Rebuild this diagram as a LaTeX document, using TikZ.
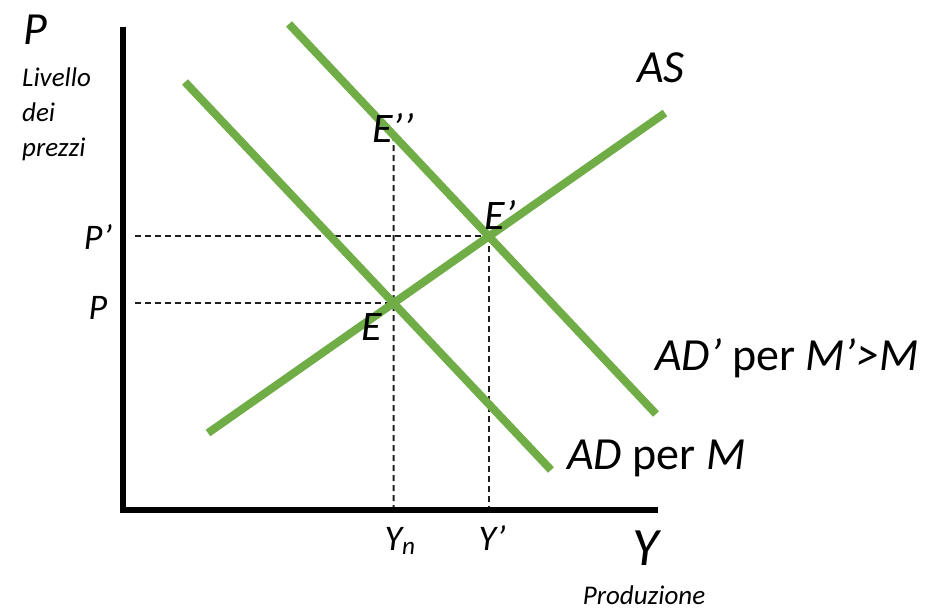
\documentclass[tikz,border=0pt]{standalone}
\usepackage{fontspec}
\setmainfont{Carlito}
\usetikzlibrary{calc}
\definecolor{curvegreen}{RGB}{112, 173, 71}
\definecolor{guidegray}{RGB}{30, 30, 30}

\tikzset{
    curve/.style={draw=curvegreen, line width=8pt},
    axisline/.style={draw=black, line width=6pt},
    guide/.style={draw=guidegray, line width=2pt, dash pattern=on 6pt off 4pt},
    axisname/.style={inner sep=0pt, font=\fontsize{46}{50}\selectfont\itshape},
    axisnote/.style={inner sep=0pt, align=left, font=\fontsize{27}{35}\selectfont\itshape},
    curvename/.style={inner sep=0pt, font=\fontsize{46}{50}\selectfont},
    pointname/.style={inner sep=0pt, font=\fontsize{42}{46}\selectfont\itshape},
    ticklabel/.style={inner sep=0pt, font=\fontsize{36}{40}\selectfont\itshape}
}

\begin{document}
\begin{tikzpicture}[x=1pt, y=-1pt]
    \useasboundingbox (0,0) rectangle (944,611);

    % ends of the three curves
    \coordinate (ad-a) at (185,82);
    \coordinate (ad-b) at (551,470);
    \coordinate (adp-a) at (289,24);
    \coordinate (adp-b) at (656,414);
    \coordinate (as-a) at (208,433);
    \coordinate (as-b) at (665,113);

    % axes
    \coordinate (origin) at (123,510);
    \coordinate (ytop) at (123,27);
    \coordinate (xend) at (658,510);

    % equilibria
    \coordinate (E) at (intersection of ad-a--ad-b and as-a--as-b);
    \coordinate (E1) at (intersection of adp-a--adp-b and as-a--as-b);
    \coordinate (Etop) at (E |- ytop);
    \coordinate (E2) at (intersection of adp-a--adp-b and E--Etop);

    % dashed guides
    \draw[guide] ($(origin |- E)+(12,0)$) -- (E);
    \draw[guide] ($(origin |- E1)+(12,0)$) -- (E1);
    \draw[guide] (E2) -- (E |- origin);
    \draw[guide] (E1) -- (E1 |- origin);

    % curves
    \draw[curve] (ad-a) -- (ad-b);
    \draw[curve] (adp-a) -- (adp-b);
    \draw[curve] (as-a) -- (as-b);

    \draw[axisline] (ytop) -- (origin) -- (xend);

    % labels
    \node[axisname] (plab) at (35,30) {P};
    \node[axisnote, anchor=north west] (pnote) at (22,68) {Livello\\dei\\prezzi};
    \node[axisname, font=\fontsize{54}{58}\selectfont\itshape] (ylab) at (646,548) {Y};
    \node[axisnote] (ynote) at (644,595) {Produzione};

    \node[curvename] (aslab) at (661,68) {\itshape AS};
    \node[curvename, anchor=west] (adplab) at (655,358) {\itshape AD’\/\upshape{} per \itshape M’>M};
    \node[curvename, anchor=west] (adlab) at (567,458) {\itshape AD\/\upshape{} per \itshape M};

    \node[pointname] (elab) at (372,327) {E};
    \node[pointname] (e1lab) at (500,215) {E’};
    \node[pointname] (e2lab) at (393,128) {E’’};

    \node[ticklabel] (p1lab) at (98,237) {P’};
    \node[ticklabel] (plab2) at (98,308) {P};
    \node[ticklabel] (ynlab) at (400,541) {Y\textsubscript{n}};
    \node[ticklabel] (y1lab) at (492,538) {Y’};
\end{tikzpicture}
\end{document}
